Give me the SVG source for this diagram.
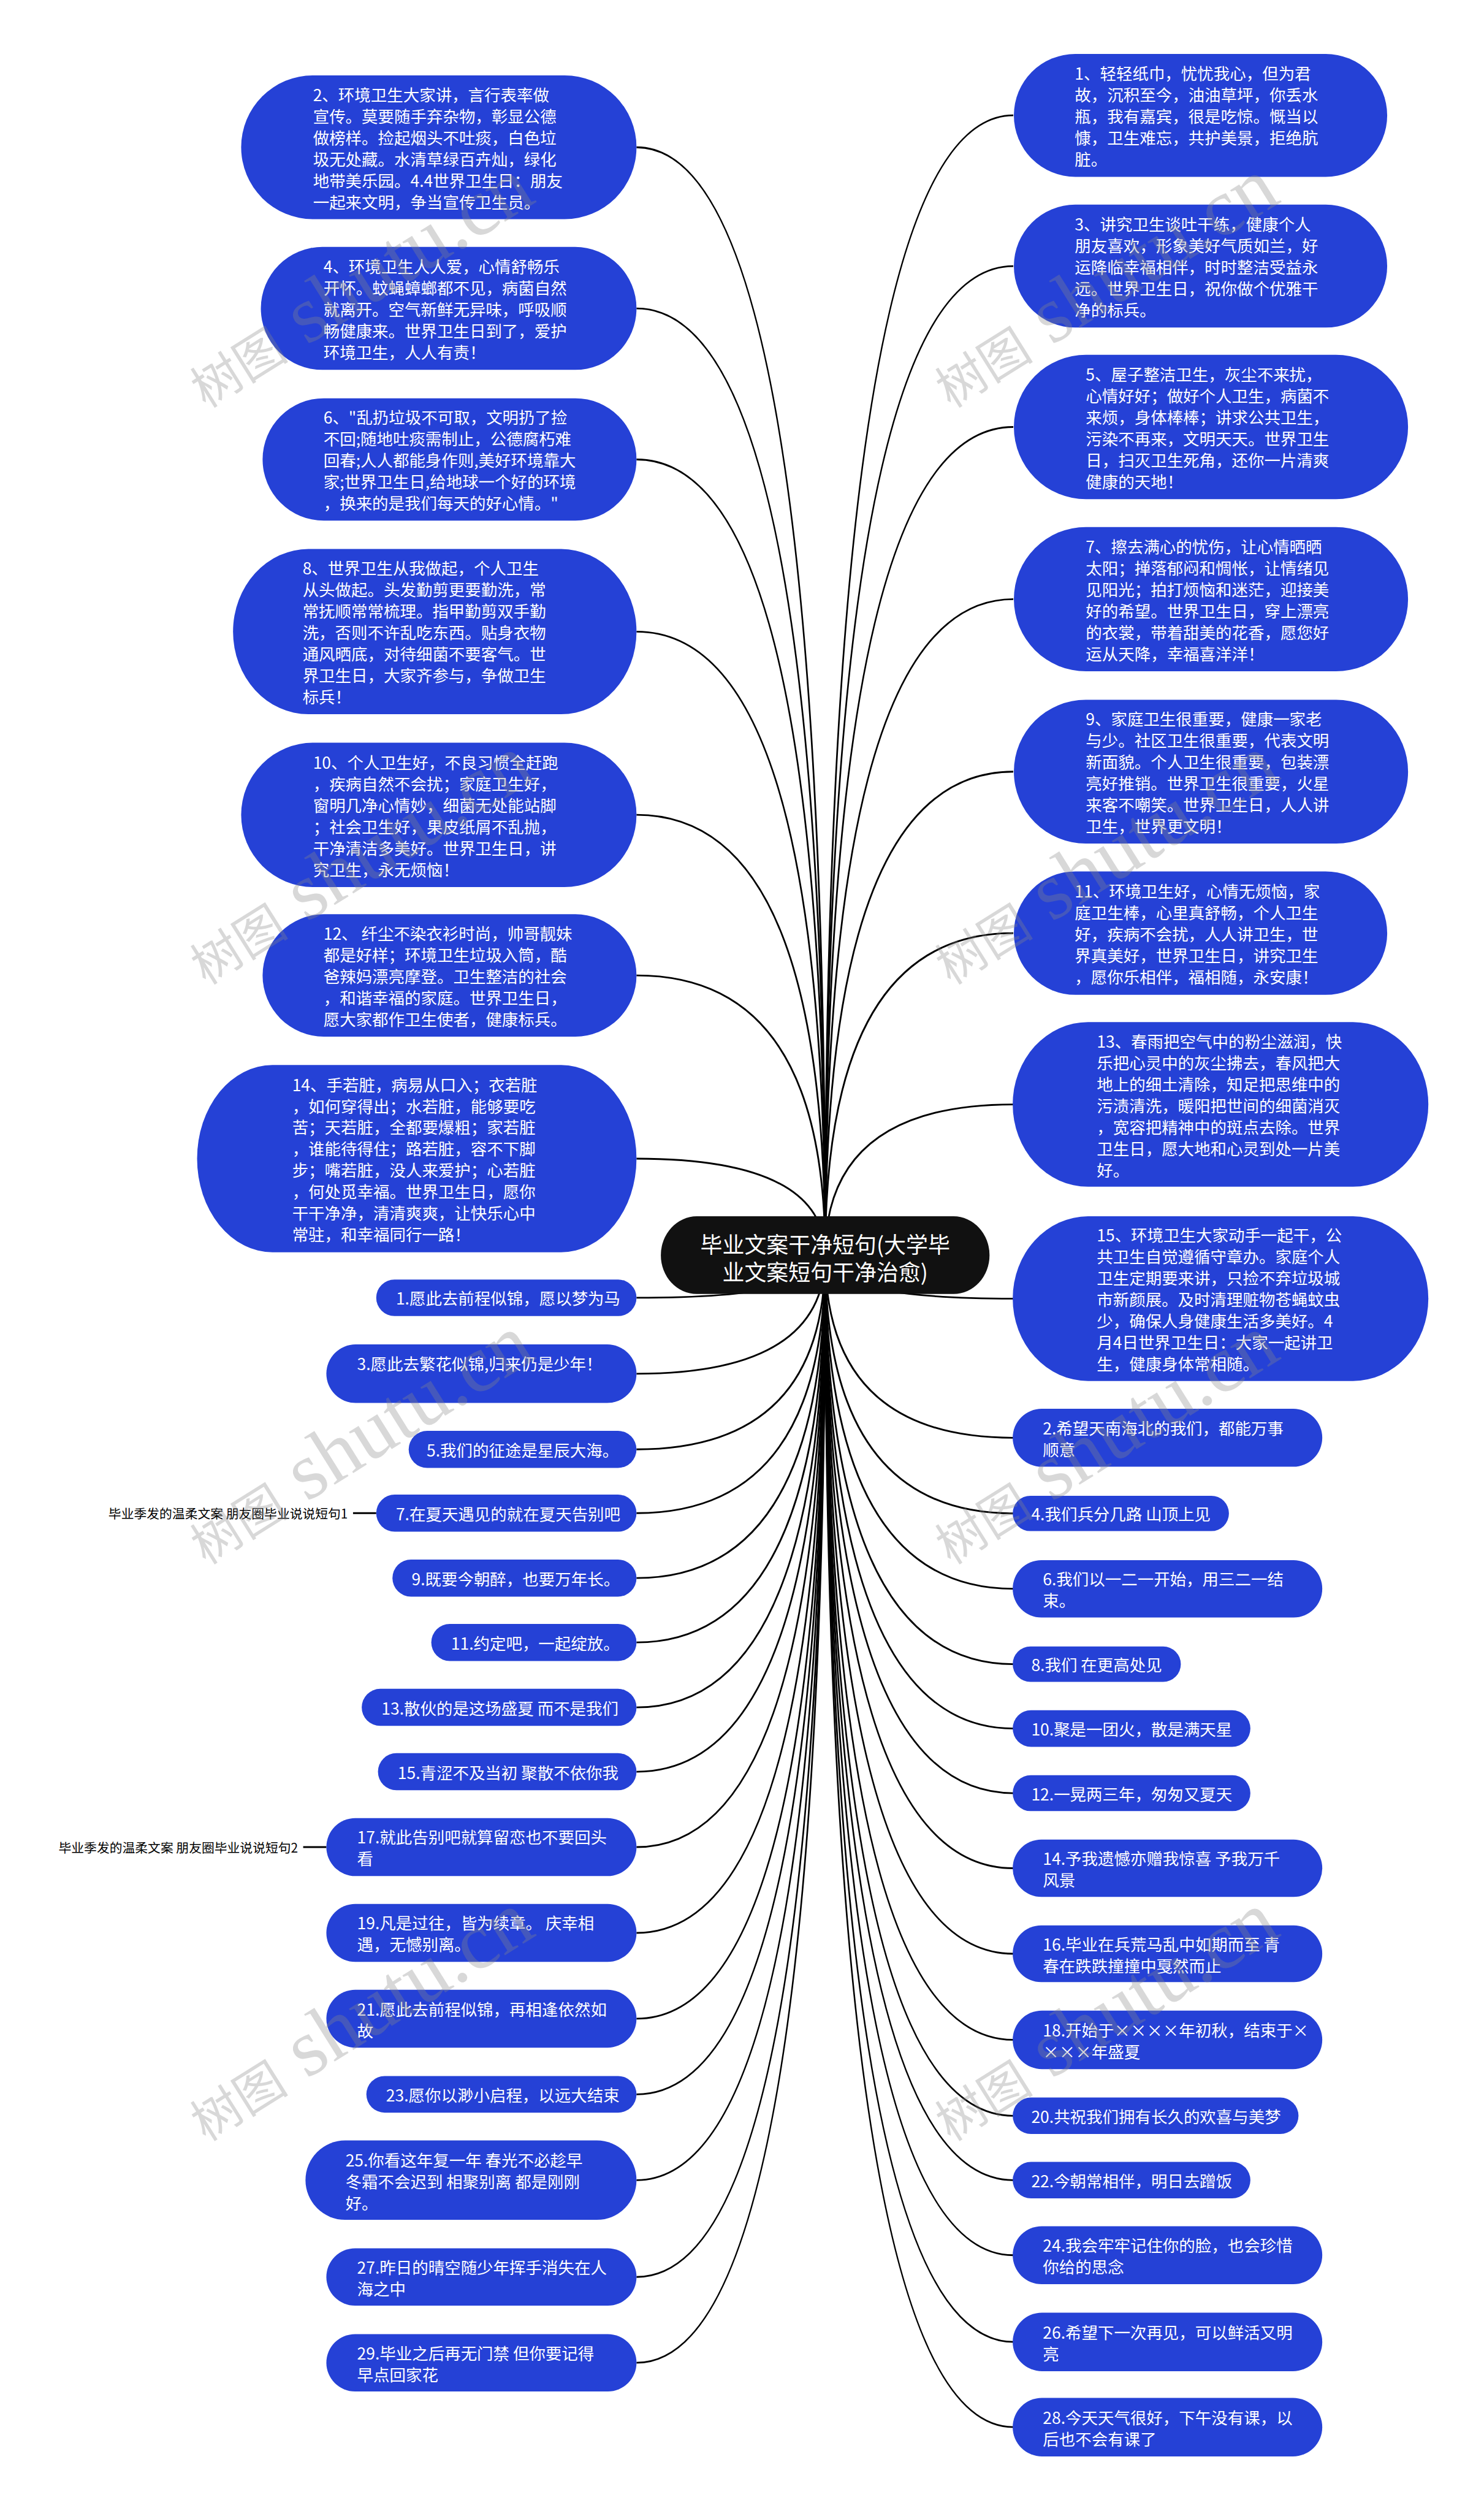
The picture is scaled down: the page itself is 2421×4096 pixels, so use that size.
<svg xmlns="http://www.w3.org/2000/svg" width="2421" height="4096" viewBox="0 0 2421 4096">
<style>
.n{fill:#2541d6}
.t{font-family:"Noto Sans CJK SC","Noto Sans",sans-serif;font-size:28px;fill:#fff;dominant-baseline:central}
.c{fill:none;stroke:#000;stroke-width:3}
.lb{font-family:"Noto Sans CJK SC","Noto Sans",sans-serif;font-size:22px;fill:#000;dominant-baseline:central}
.wm{font-family:"Liberation Serif","Noto Sans CJK SC",serif;fill:#888;fill-opacity:0.33}
</style>
<rect width="2421" height="4096" fill="#fff"/>
<g transform="scale(0.9457)">
<g id="connectors">
<path class="c" d="M1423.5 2165Q1423.5 254 1098 254"/>
<path class="c" d="M1423.5 2165Q1423.5 532 1098 532"/>
<path class="c" d="M1423.5 2165Q1423.5 792.5 1098 792.5"/>
<path class="c" d="M1423.5 2165Q1423.5 1089.5 1098 1089.5"/>
<path class="c" d="M1423.5 2165Q1423.5 1405.5 1098 1405.5"/>
<path class="c" d="M1423.5 2165Q1423.5 1682.5 1098 1682.5"/>
<path class="c" d="M1423.5 2165Q1423.5 1998.5 1098 1998.5"/>
<path class="c" d="M1423.5 2165Q1423.5 2238.5 1098 2238.5"/>
<path class="c" d="M1423.5 2165Q1423.5 2369.5 1098 2369.5"/>
<path class="c" d="M1423.5 2165Q1423.5 2500 1098 2500"/>
<path class="c" d="M1423.5 2165Q1423.5 2610 1098 2610"/>
<path class="c" d="M1423.5 2165Q1423.5 2722 1098 2722"/>
<path class="c" d="M1423.5 2165Q1423.5 2833 1098 2833"/>
<path class="c" d="M1423.5 2165Q1423.5 2945 1098 2945"/>
<path class="c" d="M1423.5 2165Q1423.5 3056 1098 3056"/>
<path class="c" d="M1423.5 2165Q1423.5 3186 1098 3186"/>
<path class="c" d="M1423.5 2165Q1423.5 3334 1098 3334"/>
<path class="c" d="M1423.5 2165Q1423.5 3482 1098 3482"/>
<path class="c" d="M1423.5 2165Q1423.5 3612.5 1098 3612.5"/>
<path class="c" d="M1423.5 2165Q1423.5 3760.5 1098 3760.5"/>
<path class="c" d="M1423.5 2165Q1423.5 3927.5 1098 3927.5"/>
<path class="c" d="M1423.5 2165Q1423.5 4075.5 1098 4075.5"/>
<path class="c" d="M1423.5 2165Q1423.5 199 1748 199"/>
<path class="c" d="M1423.5 2165Q1423.5 459 1748 459"/>
<path class="c" d="M1423.5 2165Q1423.5 736.5 1748 736.5"/>
<path class="c" d="M1423.5 2165Q1423.5 1033.5 1748 1033.5"/>
<path class="c" d="M1423.5 2165Q1423.5 1331 1748 1331"/>
<path class="c" d="M1423.5 2165Q1423.5 1609.5 1748 1609.5"/>
<path class="c" d="M1423.5 2165Q1423.5 1905 1748 1905"/>
<path class="c" d="M1423.5 2165Q1423.5 2240 1748 2240"/>
<path class="c" d="M1423.5 2165Q1423.5 2480 1748 2480"/>
<path class="c" d="M1423.5 2165Q1423.5 2610.5 1748 2610.5"/>
<path class="c" d="M1423.5 2165Q1423.5 2740.5 1748 2740.5"/>
<path class="c" d="M1423.5 2165Q1423.5 2870.5 1748 2870.5"/>
<path class="c" d="M1423.5 2165Q1423.5 2981.5 1748 2981.5"/>
<path class="c" d="M1423.5 2165Q1423.5 3093 1748 3093"/>
<path class="c" d="M1423.5 2165Q1423.5 3222.5 1748 3222.5"/>
<path class="c" d="M1423.5 2165Q1423.5 3370 1748 3370"/>
<path class="c" d="M1423.5 2165Q1423.5 3518.5 1748 3518.5"/>
<path class="c" d="M1423.5 2165Q1423.5 3649.5 1748 3649.5"/>
<path class="c" d="M1423.5 2165Q1423.5 3760.5 1748 3760.5"/>
<path class="c" d="M1423.5 2165Q1423.5 3890 1748 3890"/>
<path class="c" d="M1423.5 2165Q1423.5 4039.5 1748 4039.5"/>
<path class="c" d="M1423.5 2165Q1423.5 4186.5 1748 4186.5"/>
<path class="c" d="M609 2610H649"/>
<path class="c" d="M523 3186H563"/>
</g>

<g id="center">
<rect x="1140" y="2098" width="567" height="134" rx="62" ry="67" fill="#111"/>
<text font-family="'Noto Sans CJK SC',sans-serif" font-size="38" fill="#fff" text-anchor="middle" dominant-baseline="central"><tspan x="1423.5" y="2144">毕业文案干净短句(大学毕</tspan><tspan x="1423.5" y="2192">业文案短句干净治愈)</tspan></text>
</g>

<g id="n2"><rect class="n" x="416" y="130" width="682" height="248" rx="124" ry="124"/>
<text class="t"><tspan x="540" y="161.5">2、环境卫生大家讲，言行表率做</tspan><tspan x="540" y="198.5">宣传。莫要随手弃杂物，彰显公德</tspan><tspan x="540" y="235.5">做榜样。捡起烟头不吐痰，白色垃</tspan><tspan x="540" y="272.5">圾无处藏。水清草绿百卉灿，绿化</tspan><tspan x="540" y="309.5">地带美乐园。4.4世界卫生日：朋友</tspan><tspan x="540" y="346.5">一起来文明，争当宣传卫生员。</tspan></text></g>

<g id="n4"><rect class="n" x="450" y="426" width="648" height="212" rx="106" ry="106"/>
<text class="t"><tspan x="558" y="458">4、环境卫生人人爱，心情舒畅乐</tspan><tspan x="558" y="495">开怀。蚊蝇蟑螂都不见，病菌自然</tspan><tspan x="558" y="532">就离开。空气新鲜无异味，呼吸顺</tspan><tspan x="558" y="569">畅健康来。世界卫生日到了，爱护</tspan><tspan x="558" y="606">环境卫生，人人有责！</tspan></text></g>

<g id="n6"><rect class="n" x="453" y="687" width="645" height="211" rx="105.5" ry="105.5"/>
<text class="t"><tspan x="558" y="718.5">6、"乱扔垃圾不可取，文明扔了捡</tspan><tspan x="558" y="755.5">不回;随地吐痰需制止，公德腐朽难</tspan><tspan x="558" y="792.5">回春;人人都能身作则,美好环境靠大</tspan><tspan x="558" y="829.5">家;世界卫生日,给地球一个好的环境</tspan><tspan x="558" y="866.5">，换来的是我们每天的好心情。"</tspan></text></g>

<g id="n8"><rect class="n" x="402" y="947" width="696" height="285" rx="130" ry="142.5"/>
<text class="t"><tspan x="522" y="978.5">8、世界卫生从我做起，个人卫生</tspan><tspan x="522" y="1015.5">从头做起。头发勤剪更要勤洗，常</tspan><tspan x="522" y="1052.5">常抚顺常常梳理。指甲勤剪双手勤</tspan><tspan x="522" y="1089.5">洗，否则不许乱吃东西。贴身衣物</tspan><tspan x="522" y="1126.5">通风晒底，对待细菌不要客气。世</tspan><tspan x="522" y="1163.5">界卫生日，大家齐参与，争做卫生</tspan><tspan x="522" y="1200.5">标兵！</tspan></text></g>

<g id="n10"><rect class="n" x="416" y="1281" width="682" height="249" rx="124.5" ry="124.5"/>
<text class="t"><tspan x="540" y="1313">10、个人卫生好，不良习惯全赶跑</tspan><tspan x="540" y="1350">，疾病自然不会扰；家庭卫生好，</tspan><tspan x="540" y="1387">窗明几净心情妙，细菌无处能站脚</tspan><tspan x="540" y="1424">；社会卫生好，果皮纸屑不乱抛，</tspan><tspan x="540" y="1461">干净清洁多美好。世界卫生日，讲</tspan><tspan x="540" y="1498">究卫生，永无烦恼！</tspan></text></g>

<g id="n12"><rect class="n" x="453" y="1577" width="645" height="211" rx="105.5" ry="105.5"/>
<text class="t"><tspan x="558" y="1608.5">12、 纤尘不染衣衫时尚，帅哥靓妹</tspan><tspan x="558" y="1645.5">都是好样；环境卫生垃圾入筒，酷</tspan><tspan x="558" y="1682.5">爸辣妈漂亮摩登。卫生整洁的社会</tspan><tspan x="558" y="1719.5">，和谐幸福的家庭。世界卫生日，</tspan><tspan x="558" y="1756.5">愿大家都作卫生使者，健康标兵。</tspan></text></g>

<g id="n14"><rect class="n" x="340" y="1837" width="758" height="323" rx="130" ry="161.5"/>
<text class="t"><tspan x="504" y="1869">14、手若脏，病易从口入；衣若脏</tspan><tspan x="504" y="1906">，如何穿得出；水若脏，能够要吃</tspan><tspan x="504" y="1943">苦；天若脏，全都要爆粗；家若脏</tspan><tspan x="504" y="1980">，谁能待得住；路若脏，容不下脚</tspan><tspan x="504" y="2017">步；嘴若脏，没人来爱护；心若脏</tspan><tspan x="504" y="2054">，何处觅幸福。世界卫生日，愿你</tspan><tspan x="504" y="2091">干干净净，清清爽爽，让快乐心中</tspan><tspan x="504" y="2128">常驻，和幸福同行一路！</tspan></text></g>

<g id="n1"><rect class="n" x="1749" y="93" width="644" height="212" rx="106" ry="106"/>
<text class="t"><tspan x="1854" y="125">1、轻轻纸巾，忧忧我心，但为君</tspan><tspan x="1854" y="162">故，沉积至今，油油草坪，你丢水</tspan><tspan x="1854" y="199">瓶，我有嘉宾，很是吃惊。慨当以</tspan><tspan x="1854" y="236">慷，卫生难忘，共护美景，拒绝肮</tspan><tspan x="1854" y="273">脏。</tspan></text></g>

<g id="n3"><rect class="n" x="1749" y="353" width="644" height="212" rx="106" ry="106"/>
<text class="t"><tspan x="1854" y="385">3、讲究卫生谈吐干练，健康个人</tspan><tspan x="1854" y="422">朋友喜欢，形象美好气质如兰，好</tspan><tspan x="1854" y="459">运降临幸福相伴，时时整洁受益永</tspan><tspan x="1854" y="496">远。世界卫生日，祝你做个优雅干</tspan><tspan x="1854" y="533">净的标兵。</tspan></text></g>

<g id="n5"><rect class="n" x="1749" y="612" width="680" height="249" rx="124.5" ry="124.5"/>
<text class="t"><tspan x="1873" y="644">5、屋子整洁卫生，灰尘不来扰，</tspan><tspan x="1873" y="681">心情好好；做好个人卫生，病菌不</tspan><tspan x="1873" y="718">来烦，身体棒棒；讲求公共卫生，</tspan><tspan x="1873" y="755">污染不再来，文明天天。世界卫生</tspan><tspan x="1873" y="792">日，扫灭卫生死角，还你一片清爽</tspan><tspan x="1873" y="829">健康的天地！</tspan></text></g>

<g id="n7"><rect class="n" x="1749" y="909" width="680" height="249" rx="124.5" ry="124.5"/>
<text class="t"><tspan x="1873" y="941">7、擦去满心的忧伤，让心情晒晒</tspan><tspan x="1873" y="978">太阳；掸落郁闷和惆怅，让情绪见</tspan><tspan x="1873" y="1015">见阳光；拍打烦恼和迷茫，迎接美</tspan><tspan x="1873" y="1052">好的希望。世界卫生日，穿上漂亮</tspan><tspan x="1873" y="1089">的衣裳，带着甜美的花香，愿您好</tspan><tspan x="1873" y="1126">运从天降，幸福喜洋洋！</tspan></text></g>

<g id="n9"><rect class="n" x="1749" y="1207" width="680" height="248" rx="124" ry="124"/>
<text class="t"><tspan x="1873" y="1238.5">9、家庭卫生很重要，健康一家老</tspan><tspan x="1873" y="1275.5">与少。社区卫生很重要，代表文明</tspan><tspan x="1873" y="1312.5">新面貌。个人卫生很重要，包装漂</tspan><tspan x="1873" y="1349.5">亮好推销。世界卫生很重要，火星</tspan><tspan x="1873" y="1386.5">来客不嘲笑。世界卫生日，人人讲</tspan><tspan x="1873" y="1423.5">卫生，世界更文明！</tspan></text></g>

<g id="n11"><rect class="n" x="1749" y="1503" width="644" height="213" rx="106.5" ry="106.5"/>
<text class="t"><tspan x="1854" y="1535.5">11、环境卫生好，心情无烦恼，家</tspan><tspan x="1854" y="1572.5">庭卫生棒，心里真舒畅，个人卫生</tspan><tspan x="1854" y="1609.5">好，疾病不会扰，人人讲卫生，世</tspan><tspan x="1854" y="1646.5">界真美好，世界卫生日，讲究卫生</tspan><tspan x="1854" y="1683.5">，愿你乐相伴，福相随，永安康！</tspan></text></g>

<g id="n13"><rect class="n" x="1747" y="1763" width="717" height="284" rx="130" ry="142"/>
<text class="t"><tspan x="1892" y="1794">13、春雨把空气中的粉尘滋润，快</tspan><tspan x="1892" y="1831">乐把心灵中的灰尘拂去，春风把大</tspan><tspan x="1892" y="1868">地上的细土清除，知足把思维中的</tspan><tspan x="1892" y="1905">污渍清洗，暖阳把世间的细菌消灭</tspan><tspan x="1892" y="1942">，宽容把精神中的斑点去除。世界</tspan><tspan x="1892" y="1979">卫生日，愿大地和心灵到处一片美</tspan><tspan x="1892" y="2016">好。</tspan></text></g>

<g id="n15"><rect class="n" x="1747" y="2098" width="717" height="284" rx="130" ry="142"/>
<text class="t"><tspan x="1892" y="2129">15、环境卫生大家动手一起干，公</tspan><tspan x="1892" y="2166">共卫生自觉遵循守章办。家庭个人</tspan><tspan x="1892" y="2203">卫生定期要来讲，只捡不弃垃圾城</tspan><tspan x="1892" y="2240">市新颜展。及时清理赃物苍蝇蚊虫</tspan><tspan x="1892" y="2277">少，确保人身健康生活多美好。4</tspan><tspan x="1892" y="2314">月4日世界卫生日：大家一起讲卫</tspan><tspan x="1892" y="2351">生，健康身体常相随。</tspan></text></g>

<g id="l1"><rect class="n" x="649" y="2207" width="449" height="63" rx="31.5"/><text class="t" x="683" y="2238.5">1.愿此去前程似锦，愿以梦为马</text></g>
<g id="l3"><rect class="n" x="563" y="2319" width="535" height="101" rx="50.5"/><text class="t" x="616" y="2351">3.愿此去繁花似锦,归来仍是少年！</text></g>
<g id="l5"><rect class="n" x="705" y="2468" width="393" height="64" rx="32"/><text class="t" x="736" y="2500">5.我们的征途是星辰大海。</text></g>
<g id="l7"><rect class="n" x="649" y="2578" width="449" height="64" rx="32"/><text class="t" x="683" y="2610">7.在夏天遇见的就在夏天告别吧</text></g>
<g id="lab1"><text class="lb" x="600" y="2610" text-anchor="end">毕业季发的温柔文案 朋友圈毕业说说短句1</text></g>
<g id="l9"><rect class="n" x="677" y="2690" width="421" height="64" rx="32"/><text class="t" x="710" y="2722">9.既要今朝醉，也要万年长。</text></g>
<g id="l11"><rect class="n" x="744" y="2801" width="354" height="64" rx="32"/><text class="t" x="778" y="2833">11.约定吧，一起绽放。</text></g>
<g id="l13"><rect class="n" x="624" y="2913" width="474" height="64" rx="32"/><text class="t" x="658" y="2945">13.散伙的是这场盛夏 而不是我们</text></g>
<g id="l15"><rect class="n" x="652" y="3024" width="446" height="64" rx="32"/><text class="t" x="686" y="3056">15.青涩不及当初 聚散不依你我</text></g>
<g id="l17"><rect class="n" x="563" y="3136" width="535" height="100" rx="50"/><text class="t"><tspan x="616" y="3167">17.就此告别吧就算留恋也不要回头</tspan><tspan x="616" y="3204">看</tspan></text></g>
<g id="lab2"><text class="lb" x="514" y="3186" text-anchor="end">毕业季发的温柔文案 朋友圈毕业说说短句2</text></g>
<g id="l19"><rect class="n" x="563" y="3284" width="535" height="100" rx="50"/><text class="t"><tspan x="616" y="3315">19.凡是过往，皆为续章。 庆幸相</tspan><tspan x="616" y="3352">遇，无憾别离。</tspan></text></g>
<g id="l21"><rect class="n" x="563" y="3432" width="535" height="100" rx="50"/><text class="t"><tspan x="616" y="3464">21.愿此去前程似锦，再相逢依然如</tspan><tspan x="616" y="3501">故</tspan></text></g>
<g id="l23"><rect class="n" x="632" y="3581" width="466" height="63" rx="31.5"/><text class="t" x="666" y="3612.5">23.愿你以渺小启程，以远大结束</text></g>
<g id="l25"><rect class="n" x="527" y="3692" width="571" height="137" rx="68.5"/><text class="t"><tspan x="596" y="3724">25.你看这年复一年 春光不必趁早</tspan><tspan x="596" y="3761">冬霜不会迟到 相聚别离 都是刚刚</tspan><tspan x="596" y="3798">好。</tspan></text></g>
<g id="l27"><rect class="n" x="563" y="3878" width="535" height="99" rx="49.5"/><text class="t"><tspan x="616" y="3909">27.昨日的晴空随少年挥手消失在人</tspan><tspan x="616" y="3946">海之中</tspan></text></g>
<g id="l29"><rect class="n" x="563" y="4026" width="535" height="99" rx="49.5"/><text class="t"><tspan x="616" y="4057">29.毕业之后再无门禁 但你要记得</tspan><tspan x="616" y="4094">早点回家花</tspan></text></g>

<g id="r2"><rect class="n" x="1747" y="2430" width="534" height="100" rx="50"/><text class="t"><tspan x="1799" y="2462">2.希望天南海北的我们，都能万事</tspan><tspan x="1799" y="2499">顺意</tspan></text></g>
<g id="r4"><rect class="n" x="1747" y="2580" width="373" height="61" rx="30.5"/><text class="t" x="1779" y="2610.5">4.我们兵分几路 山顶上见</text></g>
<g id="r6"><rect class="n" x="1747" y="2691" width="534" height="99" rx="49.5"/><text class="t"><tspan x="1799" y="2722">6.我们以一二一开始，用三二一结</tspan><tspan x="1799" y="2759">束。</tspan></text></g>
<g id="r8"><rect class="n" x="1747" y="2840" width="290" height="61" rx="30.5"/><text class="t" x="1779" y="2870.5">8.我们 在更高处见</text></g>
<g id="r10"><rect class="n" x="1747" y="2950" width="410" height="63" rx="31.5"/><text class="t" x="1779" y="2981.5">10.聚是一团火，散是满天星</text></g>
<g id="r12"><rect class="n" x="1747" y="3062" width="410" height="62" rx="31"/><text class="t" x="1779" y="3093">12.一晃两三年，匆匆又夏天</text></g>
<g id="r14"><rect class="n" x="1747" y="3173" width="534" height="99" rx="49.5"/><text class="t"><tspan x="1799" y="3204">14.予我遗憾亦赠我惊喜 予我万千</tspan><tspan x="1799" y="3241">风景</tspan></text></g>
<g id="r16"><rect class="n" x="1747" y="3321" width="534" height="98" rx="49"/><text class="t"><tspan x="1799" y="3351.5">16.毕业在兵荒马乱中如期而至 青</tspan><tspan x="1799" y="3388.5">春在跌跌撞撞中戛然而止</tspan></text></g>
<g id="r18"><rect class="n" x="1747" y="3468" width="534" height="101" rx="50.5"/><text class="t"><tspan x="1799" y="3500">18.开始于××××年初秋，结束于×</tspan><tspan x="1799" y="3537">×××年盛夏</tspan></text></g>
<g id="r20"><rect class="n" x="1747" y="3618" width="493" height="63" rx="31.5"/><text class="t" x="1779" y="3649.5">20.共祝我们拥有长久的欢喜与美梦</text></g>
<g id="r22"><rect class="n" x="1747" y="3729" width="410" height="63" rx="31.5"/><text class="t" x="1779" y="3760.5">22.今朝常相伴，明日去蹭饭</text></g>
<g id="r24"><rect class="n" x="1747" y="3840" width="534" height="100" rx="50"/><text class="t"><tspan x="1799" y="3871.5">24.我会牢牢记住你的脸，也会珍惜</tspan><tspan x="1799" y="3908.5">你给的思念</tspan></text></g>
<g id="r26"><rect class="n" x="1747" y="3989" width="534" height="101" rx="50.5"/><text class="t"><tspan x="1799" y="4021">26.希望下一次再见，可以鲜活又明</tspan><tspan x="1799" y="4058">亮</tspan></text></g>
<g id="r28"><rect class="n" x="1747" y="4136" width="534" height="101" rx="50.5"/><text class="t"><tspan x="1799" y="4168">28.今天天气很好，下午没有课，以</tspan><tspan x="1799" y="4205">后也不会有课了</tspan></text></g>

<g id="watermarks">
<text class="wm" transform="translate(355,705) rotate(-32)"><tspan font-size="85">树图</tspan><tspan font-size="140"> shutu.cn</tspan></text>
<text class="wm" transform="translate(355,1700) rotate(-32)"><tspan font-size="85">树图</tspan><tspan font-size="140"> shutu.cn</tspan></text>
<text class="wm" transform="translate(355,2700) rotate(-32)"><tspan font-size="85">树图</tspan><tspan font-size="140"> shutu.cn</tspan></text>
<text class="wm" transform="translate(355,3695) rotate(-32)"><tspan font-size="85">树图</tspan><tspan font-size="140"> shutu.cn</tspan></text>
<text class="wm" transform="translate(1640,705) rotate(-32)"><tspan font-size="85">树图</tspan><tspan font-size="140"> shutu.cn</tspan></text>
<text class="wm" transform="translate(1640,1700) rotate(-32)"><tspan font-size="85">树图</tspan><tspan font-size="140"> shutu.cn</tspan></text>
<text class="wm" transform="translate(1640,2700) rotate(-32)"><tspan font-size="85">树图</tspan><tspan font-size="140"> shutu.cn</tspan></text>
<text class="wm" transform="translate(1640,3695) rotate(-32)"><tspan font-size="85">树图</tspan><tspan font-size="140"> shutu.cn</tspan></text>
</g>
</g>
</svg>
